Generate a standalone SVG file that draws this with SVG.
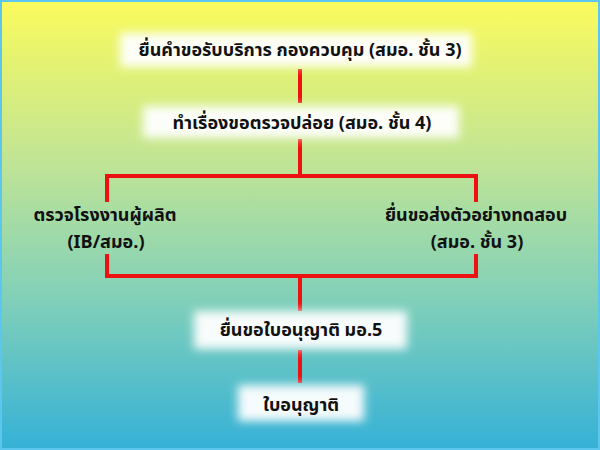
<svg xmlns="http://www.w3.org/2000/svg" width="600" height="450" viewBox="0 0 600 450">
<defs>
<linearGradient id="bg" x1="0" y1="0" x2="0" y2="1">
<stop offset="0" stop-color="#fbfb5c"/>
<stop offset="0.35" stop-color="#c2e594"/>
<stop offset="0.65" stop-color="#84d1b8"/>
<stop offset="1" stop-color="#35b1d7"/>
</linearGradient>
<filter id="glow" x="-20%" y="-60%" width="140%" height="220%">
<feGaussianBlur stdDeviation="5"/>
</filter>
<style>
.box{fill:#ffffff;fill-opacity:0.95;filter:url(#glow)}
.t{font-family:"Noto Sans Thai","Noto Sans","DejaVu Sans",sans-serif;font-weight:bold;font-size:18px;fill:#111;text-anchor:middle}
.c{stroke:#ee1111;stroke-width:4;fill:none;stroke-linecap:butt}
</style>
</defs>
<rect x="0" y="0" width="600" height="450" fill="url(#bg)"/>
<rect x="1" y="1" width="598" height="448" fill="none" stroke="#5cc6ee" stroke-width="2"/>
<g id="connectors">
<line class="c" x1="300" y1="69" x2="300" y2="103"/>
<line class="c" x1="300" y1="139" x2="300" y2="176"/>
<polyline class="c" points="107,202 107,176 476,176 476,202"/>
<polyline class="c" points="107,254 107,276 476,276 476,254"/>
<line class="c" x1="300" y1="276" x2="300" y2="311"/>
<line class="c" x1="300" y1="350" x2="300" y2="383"/>
</g>
<g id="n1">
<rect class="box" x="120" y="33" width="352" height="34"/>
<text class="t" x="300" y="56">ยื่นคำขอรับบริการ กองควบคุม (สมอ. ชั้น 3)</text>
</g>
<g id="n2">
<rect class="box" x="143" y="106" width="316" height="32"/>
<text class="t" x="302" y="129">ทำเรื่องขอตรวจปล่อย (สมอ. ชั้น 4)</text>
</g>
<g id="n3">
<text class="t" x="105" y="221">ตรวจโรงงานผู้ผลิต</text>
<text class="t" x="106" y="248">(IB/สมอ.)</text>
</g>
<g id="n4">
<text class="t" x="476" y="221">ยื่นขอส่งตัวอย่างทดสอบ</text>
<text class="t" x="477" y="248">(สมอ. ชั้น 3)</text>
</g>
<g id="n5">
<rect class="box" x="194" y="311" width="213" height="38"/>
<text class="t" x="301" y="336">ยื่นขอใบอนุญาติ มอ.5</text>
</g>
<g id="n6">
<rect class="box" x="238" y="385" width="126" height="36"/>
<text class="t" x="301" y="411">ใบอนุญาติ</text>
</g>
</svg>
